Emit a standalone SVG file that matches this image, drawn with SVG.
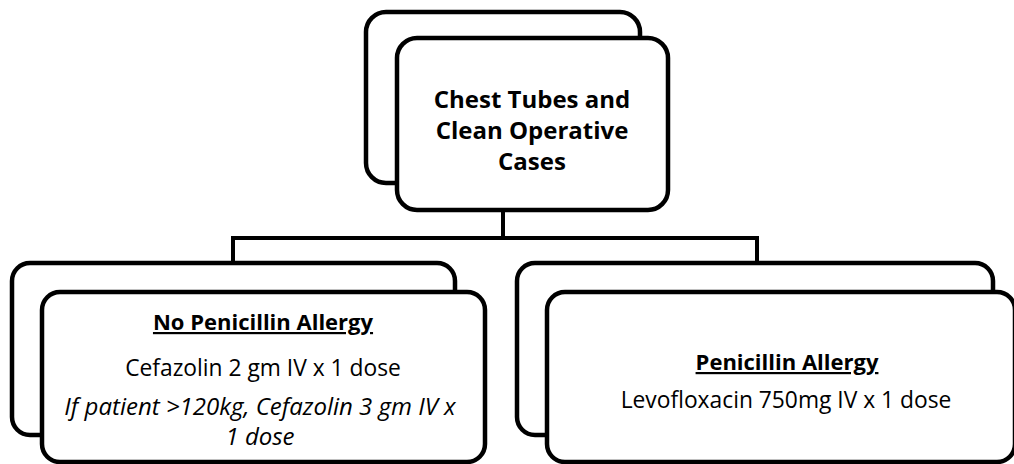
<svg xmlns="http://www.w3.org/2000/svg" width="1014" height="464" viewBox="0 0 1014 464">
<style>
.box{fill:#fff;stroke:#000;stroke-width:4.5}
.conn{fill:none;stroke:#000;stroke-width:4}
text{font-family:"Open Sans","Liberation Sans",sans-serif;fill:#000;text-anchor:middle}
.t{font-size:24px;font-weight:bold}
.h{font-size:22px;font-weight:bold;text-decoration:underline}
.n{font-size:22.8px}
.i{font-size:24px;font-style:italic}
</style>
<rect width="1014" height="464" fill="#fff"/>
<g id="connectors">
<path class="conn" d="M503 210 V238 M233 262 V238 H757 V262"/>
</g>
<g id="root">
<rect class="box" x="366" y="12" width="274" height="171" rx="20"/>
<rect class="box" x="397" y="38" width="271" height="172" rx="20"/>
<text class="t" x="532" y="108">Chest Tubes and</text>
<text class="t" x="532" y="139">Clean Operative</text>
<text class="t" x="532" y="170">Cases</text>
</g>
<g id="no-allergy">
<rect class="box" x="12" y="263" width="443" height="172" rx="18"/>
<rect class="box" x="42" y="292" width="443" height="170" rx="18"/>
<text class="h" x="263" y="330">No Penicillin Allergy</text>
<text class="n" x="263" y="376">Cefazolin 2 gm IV x 1 dose</text>
<text class="i" x="260" y="415">If patient &gt;120kg, Cefazolin 3 gm IV x</text>
<text class="i" x="260" y="445">1 dose</text>
</g>
<g id="allergy">
<rect class="box" x="517" y="263" width="476" height="172" rx="18"/>
<rect class="box" x="547" y="292" width="468" height="170" rx="18"/>
<text class="h" x="787" y="370">Penicillin Allergy</text>
<text class="n" x="786" y="408">Levofloxacin 750mg IV x 1 dose</text>
</g>
</svg>
